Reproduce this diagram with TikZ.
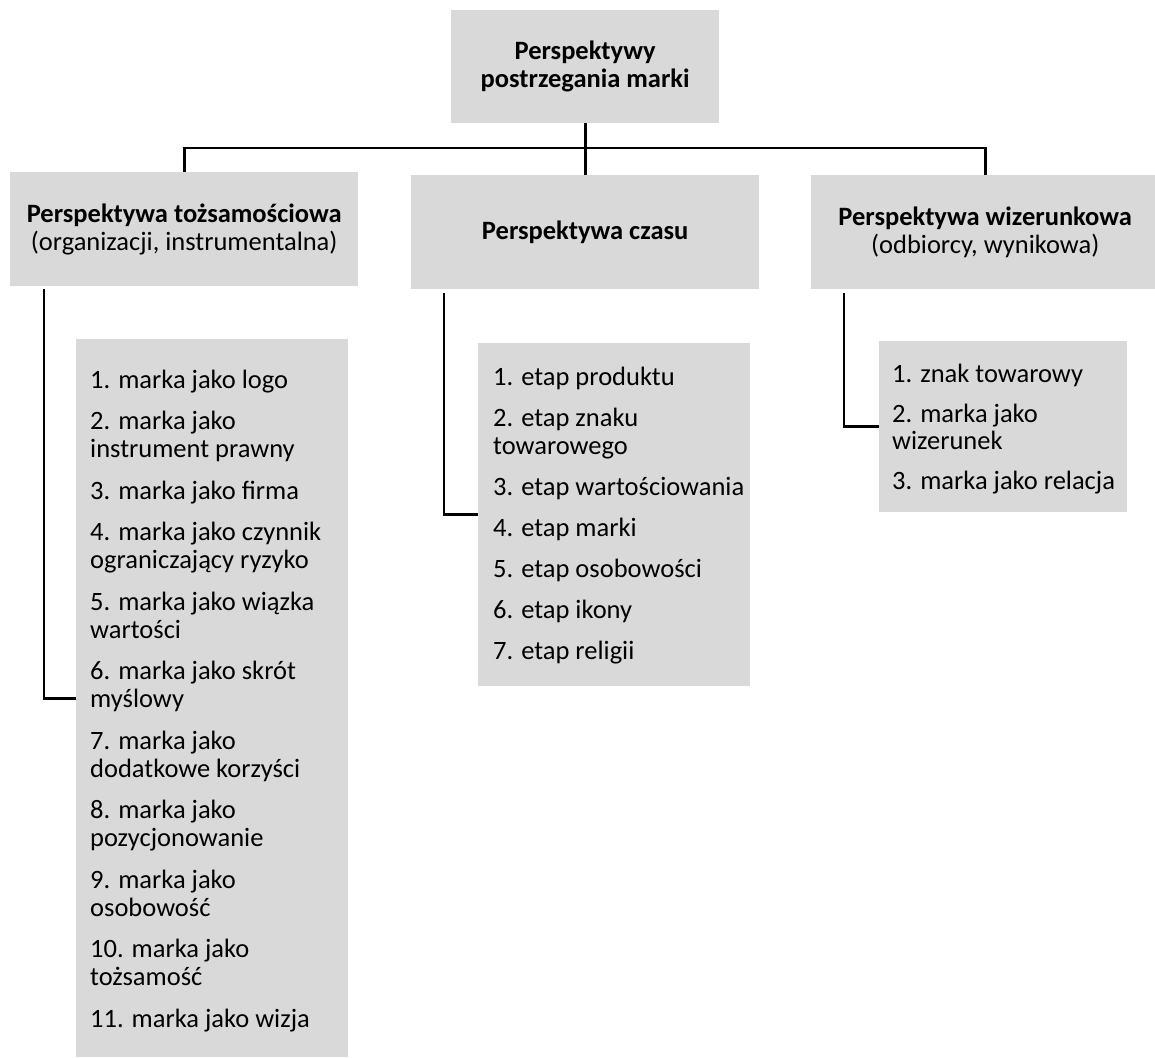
\documentclass[tikz,border=0pt]{standalone}
\usepackage{fontspec}
\setmainfont{Carlito}
\usetikzlibrary{calc}
\definecolor{boxgray}{HTML}{D9D9D9}
\begin{document}
\begin{tikzpicture}[x=1pt,y=-1pt,
  hdr/.style={fill=boxgray, inner sep=0pt, minimum width=348pt, minimum height=114pt,
    align=center, font=\fontsize{26.5}{28}\selectfont, anchor=north west},
  listbox/.style={fill=boxgray, inner sep=0pt, anchor=north west},
  entry/.style={anchor=base west, inner sep=0pt, font=\fontsize{26.5}{28}\selectfont},
  conn/.style={line width=2.6pt, black}]
\useasboundingbox (0,0) rectangle (1155,1057);

% headers
\node[hdr, minimum width=268pt, minimum height=113pt,
      font=\fontsize{26.5}{28}\selectfont\bfseries] (top) at (451,10)
  {Perspektywy\\postrzegania marki};
\node[hdr] (hl) at (10,172)
  {\textbf{Perspektywa tożsamościowa}\\(organizacji, instrumentalna)};
\node[hdr] (hm) at (411,175) {\textbf{Perspektywa czasu}};
\node[hdr] (hr) at (811,175)
  {\textbf{Perspektywa wizerunkowa}\\(odbiorcy, wynikowa)};

% list panels
\node[listbox, minimum width=272pt, minimum height=718pt] (ll) at (76,339) {};
\node[listbox, minimum width=272pt, minimum height=343pt] (lm) at (478,343) {};
\node[listbox, minimum width=248pt, minimum height=171pt] (lr) at (879,341) {};

% list entries, one node per printed line
\foreach \y/\t [count=\i] in {
  388/1. marka jako logo,
  429.5/2. marka jako,
  457.5/instrument prawny,
  499/3. marka jako firma,
  540.5/4. marka jako czynnik,
  568.5/ograniczający ryzyko,
  610/5. marka jako wiązka,
  638/wartości,
  679.5/6. marka jako skrót,
  707.5/myślowy,
  749/7. marka jako,
  777/dodatkowe korzyści,
  818.5/8. marka jako,
  846.5/pozycjonowanie,
  888/9. marka jako,
  916/osobowość,
  957.5/10. marka jako,
  985.5/tożsamość,
  1027/11. marka jako wizja}
  \node[entry] (el\i) at (90,\y) {\t};

\foreach \y/\t [count=\i] in {
  385/1. etap produktu,
  426/2. etap znaku,
  454/towarowego,
  495/3. etap wartościowania,
  536/4. etap marki,
  577/5. etap osobowości,
  618/6. etap ikony,
  659/7. etap religii}
  \node[entry] (em\i) at (493,\y) {\t};

\foreach \y/\t [count=\i] in {
  382/1. znak towarowy,
  422/2. marka jako,
  449/wizerunek,
  489/3. marka jako relacja}
  \node[entry] (er\i) at (892,\y) {\t};

% connectors
\coordinate (bus) at (585,148);
\draw[conn] (hl.north) |- (bus) -| (hr.north);
\draw[conn] (top.south) -- (hm.north);
\draw[conn] ($(hl.south west)+(34,3)$) |- (ll.west);
\draw[conn] ($(hm.south west)+(33,4)$) |- (lm.west);
\draw[conn] ($(hr.south west)+(33,4)$) |- (lr.west);
\end{tikzpicture}
\end{document}
